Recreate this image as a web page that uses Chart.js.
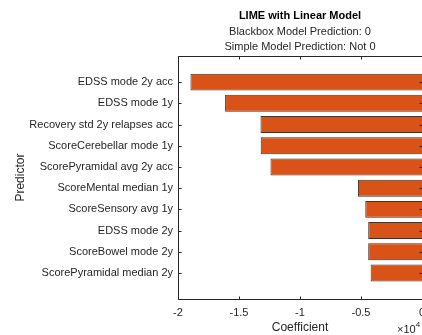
<!DOCTYPE html>
<html>
<head>
<meta charset="utf-8">
<script src="https://cdn.jsdelivr.net/npm/chart.js@4/dist/chart.umd.min.js"></script>
<style>
  html, body { margin: 0; padding: 0; background: #fff; }
  #wrap { width: 422px; height: 335px; overflow: hidden; }
  canvas { display: block; }
</style>
</head>
<body>
<div id="wrap">
  <canvas id="limeChart" width="470" height="335"></canvas>
</div>
<script>
const predictors = [
    "EDSS mode 2y acc",
    "EDSS mode 1y",
    "Recovery std 2y relapses acc",
    "ScoreCerebellar mode 1y",
    "ScorePyramidal avg 2y acc",
    "ScoreMental median 1y",
    "ScoreSensory avg 1y",
    "EDSS mode 2y",
    "ScoreBowel mode 2y",
    "ScorePyramidal median 2y"
];
const coefficients = [-18980, -16140, -13240, -13220, -12420, -5250, -4650, -4410, -4410, -4210];
const xTicks = [-20000, -15000, -10000, -5000, 0];
const exponent = 4;

const FONT = "'Liberation Sans', Arial, Helvetica, sans-serif";
const AXIS_COLOR = "#262626";

// matlab-like box around the axes with inward tick marks and the x10^n note
const axesBox = {
    id: 'axesBox',
    afterDatasetsDraw(chart) {
        const { ctx, chartArea: a, scales } = chart;
        const x = scales.x, y = scales.y;
        const tl = 3;
        ctx.save();
        ctx.strokeStyle = AXIS_COLOR;
        ctx.lineWidth = 1;
        const L = Math.round(a.left) + 0.5, R = Math.round(a.right) + 0.5;
        const T = Math.round(a.top) + 0.5, B = Math.round(a.bottom) + 0.5;
        ctx.beginPath();
        ctx.moveTo(L, T); ctx.lineTo(R, T); ctx.lineTo(R, B); ctx.lineTo(L, B); ctx.closePath();
        x.ticks.forEach(t => {
            const px = Math.round(x.getPixelForValue(t.value)) + 0.5;
            ctx.moveTo(px, B); ctx.lineTo(px, B - tl);
            ctx.moveTo(px, T); ctx.lineTo(px, T + tl);
        });
        y.ticks.forEach(t => {
            const py = Math.round(y.getPixelForValue(t.value)) + 0.5;
            ctx.moveTo(L, py); ctx.lineTo(L + tl, py);
            ctx.moveTo(R, py); ctx.lineTo(R - tl, py);
        });
        ctx.stroke();

        // exponent label under the right end of the x axis
        ctx.fillStyle = AXIS_COLOR;
        ctx.textBaseline = 'alphabetic';
        ctx.textAlign = 'left';
        ctx.font = "11px " + FONT;
        const ex = a.right - 25, ey = 333;
        ctx.fillText("\u00d710", ex, ey);
        const w = ctx.measureText("\u00d710").width;
        ctx.font = "8px " + FONT;
        ctx.fillText(String(exponent), ex + w, ey - 6);
        ctx.restore();
    }
};

new Chart(document.getElementById('limeChart'), {
    type: 'bar',
    data: {
        datasets: [{
            data: coefficients.map((v, i) => ({ x: v, y: i + 1 })),
            backgroundColor: '#D95319',
            borderColor: '#4a3024',
            borderWidth: 1,
            borderSkipped: 'start',
            barPercentage: 0.8,
            categoryPercentage: 1
        }]
    },
    options: {
        indexAxis: 'y',
        responsive: false,
        animation: false,
        layout: { padding: { left: 0, right: 48, top: 0, bottom: 0 } },
        plugins: {
            legend: { display: false },
            tooltip: { enabled: false },
            title: {
                display: true,
                fullSize: false,
                text: 'LIME with Linear Model',
                color: '#000',
                font: { family: FONT, size: 11, weight: 'bold', lineHeight: 1.2 },
                padding: { top: 9, bottom: 2 }
            },
            subtitle: {
                display: true,
                fullSize: false,
                text: ['Blackbox Model Prediction: 0', 'Simple Model Prediction: Not 0'],
                color: AXIS_COLOR,
                font: { family: FONT, size: 11, lineHeight: 1.36 },
                padding: { top: 0, bottom: 2 }
            }
        },
        scales: {
            x: {
                type: 'linear',
                min: -20000,
                max: 0,
                afterBuildTicks: s => { s.ticks = xTicks.map(v => ({ value: v })); },
                afterFit: s => { s.height = 36; },
                ticks: {
                    color: AXIS_COLOR,
                    font: { family: FONT, size: 11 },
                    padding: 7,
                    maxRotation: 0,
                    callback: v => String(v / Math.pow(10, exponent))
                },
                grid: { display: false, drawTicks: false },
                border: { display: false },
                title: {
                    display: true,
                    text: 'Coefficient',
                    color: AXIS_COLOR,
                    font: { family: FONT, size: 12, lineHeight: 1.2 },
                    padding: { top: 0, bottom: 0 }
                }
            },
            y: {
                type: 'linear',
                reverse: true,
                offset: false,
                min: -0.226,
                max: predictors.length + 1.226,
                afterBuildTicks: s => { s.ticks = predictors.map((p, i) => ({ value: i + 1 })); },
                afterFit: s => { s.width = 178; },
                ticks: {
                    color: AXIS_COLOR,
                    font: { family: FONT, size: 11 },
                    padding: 5,
                    callback: v => predictors[v - 1]
                },
                grid: { display: false, drawTicks: false },
                border: { display: false },
                title: {
                    display: true,
                    text: 'Predictor',
                    color: AXIS_COLOR,
                    font: { family: FONT, size: 12, lineHeight: 1.2 },
                    padding: { top: 13, bottom: 0 }
                }
            }
        }
    },
    plugins: [axesBox]
});
</script>
</body>
</html>
